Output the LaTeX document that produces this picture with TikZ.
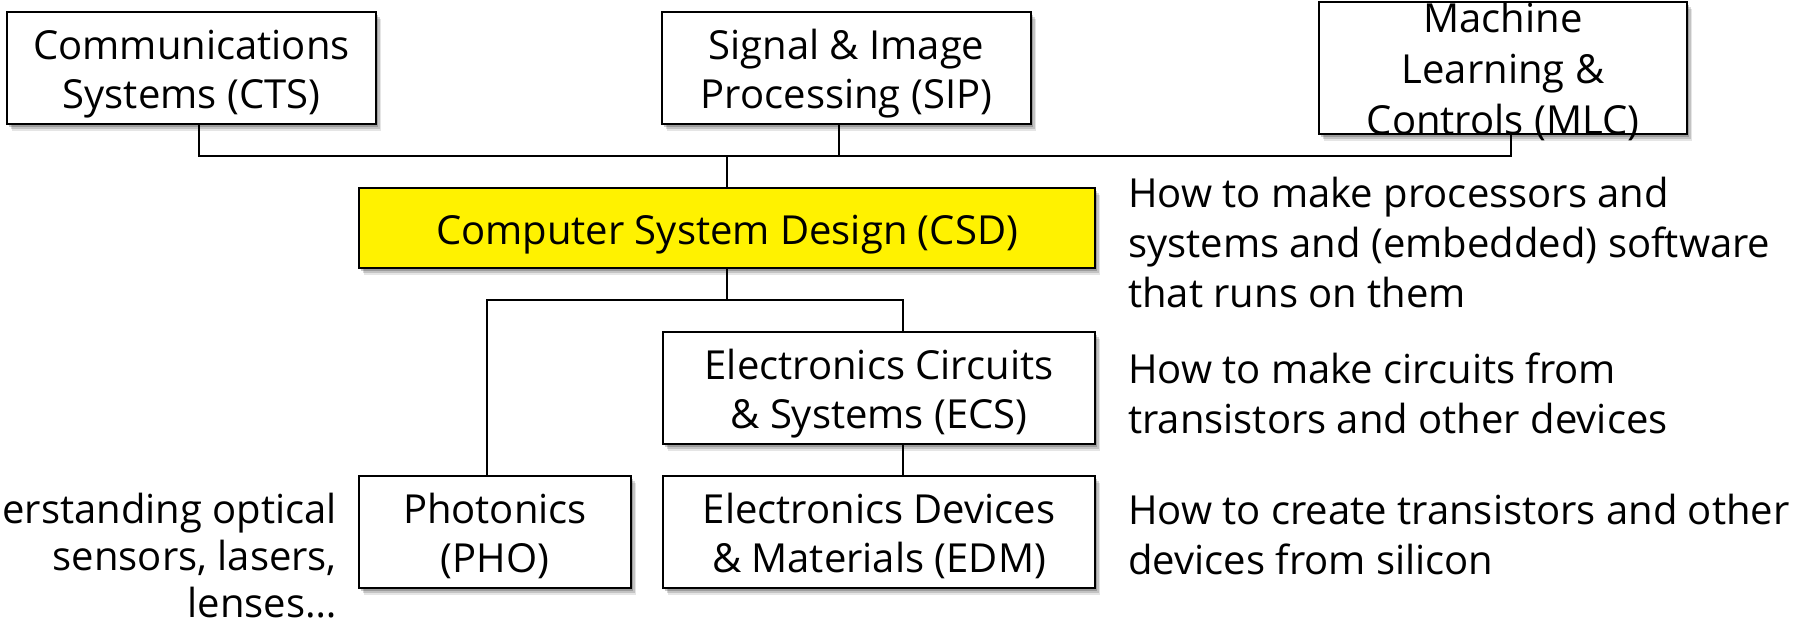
\documentclass[tikz,border=0pt]{standalone}
\usepackage{fontspec}
\setmainfont{Open Sans}
\usetikzlibrary{shadows,calc}
\begin{document}
\begin{tikzpicture}[x=1pt,y=-1pt,
  box/.style={draw=black, line width=2pt, fill=white, align=center, inner sep=0pt,
    font=\fontsize{40}{49}\selectfont,
    drop shadow={shadow xshift=5pt, shadow yshift=-7pt, opacity=0.10, fill=black},
    drop shadow={shadow xshift=3.5pt, shadow yshift=-5pt, opacity=0.15, fill=black},
    drop shadow={shadow xshift=2pt, shadow yshift=-3pt, opacity=0.2, fill=black},
    text height=80pt, text depth=0pt},
  conn/.style={line width=2pt, draw=black},
  note/.style={inner sep=0pt, font=\fontsize{40}{50}\selectfont}]
\useasboundingbox (0,0) rectangle (1806,627);
\clip (0,0) rectangle (1806,627);

% boxes
\node[box, minimum width=369pt, minimum height=112pt] (cts) at (191.5,68) {Communications\\Systems (CTS)};
\node[box, minimum width=369pt, minimum height=112pt] (sip) at (846.5,68) {Signal \& Image\\Processing (SIP)};
\node[box, minimum width=368pt, minimum height=112pt, font=\fontsize{40}{51}\selectfont, text height=132pt] (mlc) at (1503,68) {Machine\\Learning \&\\Controls (MLC)};
\node[box, fill=yellow, minimum width=736pt, minimum height=80pt, text height=32pt, text depth=0pt] (csd) at (727,228) {Computer System Design (CSD)};
\node[box, minimum width=432pt, minimum height=112pt] (ecs) at (879,388) {Electronics Circuits\\\& Systems (ECS)};
\node[box, minimum width=432pt, minimum height=112pt] (edm) at (879,532) {Electronics Devices\\\& Materials (EDM)};
\node[box, minimum width=272pt, minimum height=112pt] (pho) at (495,532) {Photonics\\(PHO)};

% junctions
\coordinate (jL) at (199,156);
\coordinate (jR) at (1511,156);
\coordinate (jS) at (839,156);
\coordinate (jC) at (727,156);
\coordinate (kL) at (487,300);
\coordinate (kR) at (903,300);

% connectors
\draw[conn] (cts.south -| jL) -- (jL) -- (jR) -- (mlc.south -| jR);
\draw[conn] (sip.south -| jS) -- (jS);
\draw[conn] (jC) -- (csd.north);
\draw[conn] (csd.south) -- (csd.south |- kL);
\draw[conn] (pho.north -| kL) -- (kL) -- (kR) -- (ecs.north -| kR);
\draw[conn] (ecs.south -| kR) -- (edm.north -| kR);

% notes (anchored at the baseline of their last line)
\node[note, anchor=base west, align=left] (t1) at (1128,307) {How to make processors and\\systems and (embedded) software\\that runs on them};
\node[note, anchor=base west, align=left] (t2) at (1128,433) {How to make circuits from\\transistors and other devices};
\node[note, anchor=base west, align=left] (t3) at (1128,574) {How to create transistors and other\\devices from silicon};
\node[note, anchor=base east, align=right, font=\fontsize{40}{47}\selectfont] (t4) at (337,617) {Understanding optical\\sensors, lasers,\\lenses…};
\end{tikzpicture}
\end{document}
